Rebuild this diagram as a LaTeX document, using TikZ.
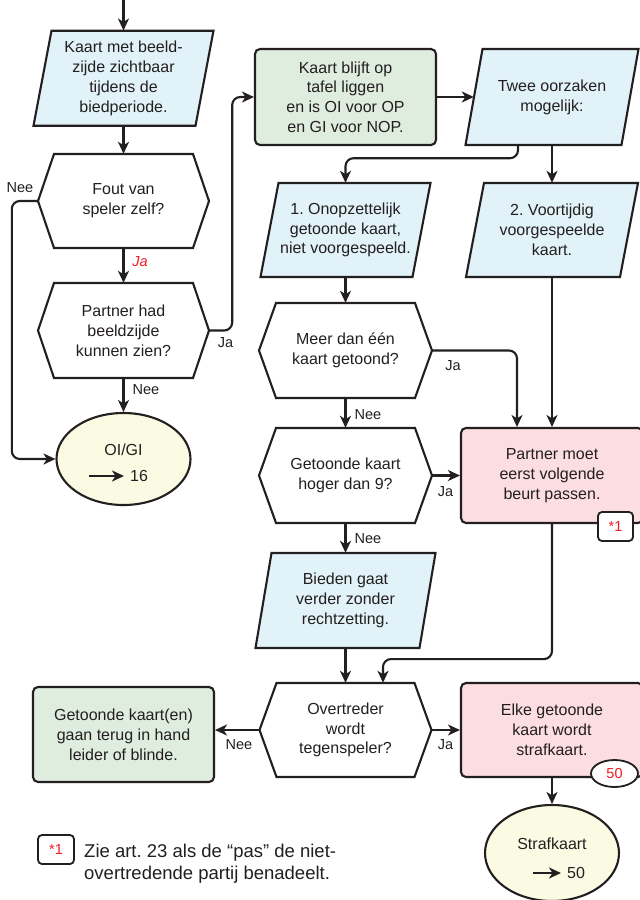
\documentclass[tikz,border=0pt]{standalone}
\usepackage{fontspec}
\setmainfont{Liberation Sans}
\usetikzlibrary{arrows.meta,shapes.geometric,calc}
\definecolor{ink}{HTML}{231F20}
\definecolor{bluef}{HTML}{E2F2F9}
\definecolor{greenf}{HTML}{DFEDDF}
\definecolor{pinkf}{HTML}{FCDDE1}
\definecolor{yellowf}{HTML}{FBFAE2}
\definecolor{redt}{HTML}{ED1C24}
\frenchspacing
\newcommand\maintxt{\fontsize{16}{19.8}\selectfont}
\newcommand\lbltxt{\fontsize{14.5}{17}\selectfont}
\newcommand\notetxt{\fontsize{18.5}{22}\selectfont}
% parallelogram: name, cx, cy, W, H, slant, text
\newcommand\paraShape[7]{%
  \path[shapeline, fill=bluef] ({#2-#4/2+#6/2},{#3-#5/2}) -- ({#2+#4/2+#6/2},{#3-#5/2})
     -- ({#2+#4/2-#6/2},{#3+#5/2}) -- ({#2-#4/2-#6/2},{#3+#5/2}) -- cycle;
  \node[anch, minimum width=#4, minimum height=#5] (#1) at (#2,#3) {#7};
}
% hexagon: name, cx, cy, W, H, indent, text
\newcommand\hexShape[7]{%
  \path[shapeline, fill=white] ({#2-#4/2},#3) -- ({#2-#4/2+#6},{#3-#5/2}) -- ({#2+#4/2-#6},{#3-#5/2})
     -- ({#2+#4/2},#3) -- ({#2+#4/2-#6},{#3+#5/2}) -- ({#2-#4/2+#6},{#3+#5/2}) -- cycle;
  \node[anch, minimum width=#4, minimum height=#5] (#1) at (#2,#3) {#7};
}
\tikzset{
  shapeline/.style={draw=ink, line width=2.1pt, line join=miter},
  anch/.style={inner sep=0pt, text=ink, font=\maintxt, align=center},
  rbox/.style={anch, draw=ink, line width=2.1pt, rounded corners=5pt},
  ellbox/.style={ellipse, draw=ink, line width=2.1pt, fill=yellowf, inner sep=0pt},
  conn/.style={draw=ink, line width=2.1pt, rounded corners=8pt, -{Stealth[length=12pt,width=11pt,inset=3.5pt]}},
  lbl/.style={text=ink, font=\lbltxt, inner sep=0pt},
  tagbox/.style={draw=ink, fill=white, line width=1.8pt, rounded corners=4pt, minimum width=35, minimum height=29, inner sep=0pt, text=redt, font=\lbltxt}
}
\begin{document}
\begin{tikzpicture}[x=1pt,y=-1pt]
\useasboundingbox[fill=white] (0,0) rectangle (640,900);

% left column
\paraShape{p1}{123.5}{78.2}{162}{95}{18}{Kaart met beeld-\\zijde zichtbaar\\tijdens de\\biedperiode.}
\hexShape{h1}{123.5}{201}{171}{94}{16}{Fout van\\speler zelf?}
\hexShape{h2}{123.5}{330.5}{171}{95}{16}{Partner had\\beeldzijde\\kunnen zien?}
\node[ellbox, minimum width=134, minimum height=92] (e1) at (123.5,459) {};
\node[anch] (e1t) at (123.5,450) {OI/GI};
\coordinate (a1s) at (89,476);
\coordinate (a1e) at (124,476);
\node[anch, anchor=west] (e1n) at (130,476) {16};

% top row
\node[rbox, fill=greenf, minimum width=181, minimum height=96] (g1) at (345.5,97) {Kaart blijft op\\tafel liggen\\en is OI voor OP\\en GI voor NOP.};
\paraShape{tw}{552}{97}{156}{96}{17}{Twee oorzaken\\mogelijk:}
\paraShape{o1}{345.5}{230}{152}{94}{18}{1. Onopzettelijk\\getoonde kaart,\\niet voorgespeeld.}
\paraShape{o2}{552}{230}{154}{94}{18}{2. Voortijdig\\voorgespeelde\\kaart.}

% middle column
\hexShape{h3}{345.5}{350.5}{173}{95}{17}{Meer dan één\\kaart getoond?}
\hexShape{h4}{345.5}{475.5}{173}{95}{17}{Getoonde kaart\\hoger dan 9?}
\node[rbox, fill=pinkf, minimum width=182, minimum height=95] (k1) at (552,475.5) {Partner moet\\eerst volgende\\beurt passen.};
\node[tagbox] (t1) at (615.5,526.5) {*1};
\paraShape{bd}{345.5}{600.5}{164}{95}{16}{Bieden gaat\\verder zonder\\rechtzetting.}
\hexShape{h5}{345.5}{730}{172}{94}{17}{Overtreder\\wordt\\tegenspeler?}
\node[rbox, fill=greenf, minimum width=181, minimum height=95] (g2) at (123.5,734.5) {Getoonde kaart(en)\\gaan terug in hand\\leider of blinde.};
\node[rbox, fill=pinkf, minimum width=182, minimum height=94] (k2) at (552,730) {Elke getoonde\\kaart wordt\\strafkaart.};
\node[ellipse, draw=ink, fill=white, line width=1.8pt, inner sep=0pt, minimum width=47, minimum height=27, text=redt, font=\lbltxt] (f50) at (614.5,773.5) {50};
\node[ellbox, minimum width=134, minimum height=96] (e2) at (552,853) {};
\node[anch] (e2t) at (552,844) {Strafkaart};
\coordinate (a2s) at (533,873);
\coordinate (a2e) at (561,873);
\node[anch, anchor=west] (e2n) at (567,873) {50};

% footnote
\node[tagbox, minimum width=36] (t2) at (56,849.5) {*1};
\node[anch, anchor=west, align=left, font=\notetxt] (note) at (84,863.5) {Zie art. 23 als de “pas” de niet-\\overtredende partij benadeelt.};

% labels
\node[lbl] (lnee1) at (20,188) {Nee};
\node[lbl, text=redt, font=\lbltxt\itshape] (lja1) at (140,262) {Ja};
\node[lbl] (lja2) at (225.5,343) {Ja};
\node[lbl] (lnee2) at (146,390) {Nee};
\node[lbl] (lja3) at (453,366) {Ja};
\node[lbl] (lnee3) at (368,415) {Nee};
\node[lbl] (lja4) at (445.5,492) {Ja};
\node[lbl] (lnee4) at (368,539) {Nee};
\node[lbl] (lnee5) at (239,745) {Nee};
\node[lbl] (lja5) at (445.5,745) {Ja};

% connectors
\coordinate (top) at (123.5,0);
\draw[conn] (top) -- (p1.north);
\draw[conn] (p1.south) -- (h1.north);
\draw[conn] (h1.south) -- (h2.north);
\draw[conn] (h2.south) -- (e1.north);
\draw[conn] (h1.west) -- ++(-26,0) |- (e1.west);
\draw[conn] (h2.east) -- ++(23,0) |- (g1.west);
\draw[conn] (g1.east) -- (tw.west);
\draw[conn] (tw.south) -- (o2.north);
\draw[conn] ([xshift=-34pt]tw.south) -- ++(0,13) -| (o1.north);
\draw[conn] (o1.south) -- (h3.north);
\draw[conn] (h3.east) -| ([xshift=-35pt]k1.north);
\draw[conn] (o2.south) -- (k1.north);
\draw[conn] (h3.south) -- (h4.north);
\draw[conn] (h4.east) -- (k1.west);
\draw[conn] (h4.south) -- (bd.north);
\draw[conn] (bd.south) -- (h5.north);
\draw[conn] (k1.south) -- ++(0,135) -| ([xshift=37.5pt]h5.north);
\draw[conn] (h5.west) -- (h5.west -| g2.east);
\draw[conn] (h5.east) -- (k2.west);
\draw[conn] (k2.south) -- (e2.north);
\draw[conn, rounded corners=0pt] (a1s) -- (a1e);
\draw[conn, rounded corners=0pt] (a2s) -- (a2e);
\end{tikzpicture}
\end{document}
